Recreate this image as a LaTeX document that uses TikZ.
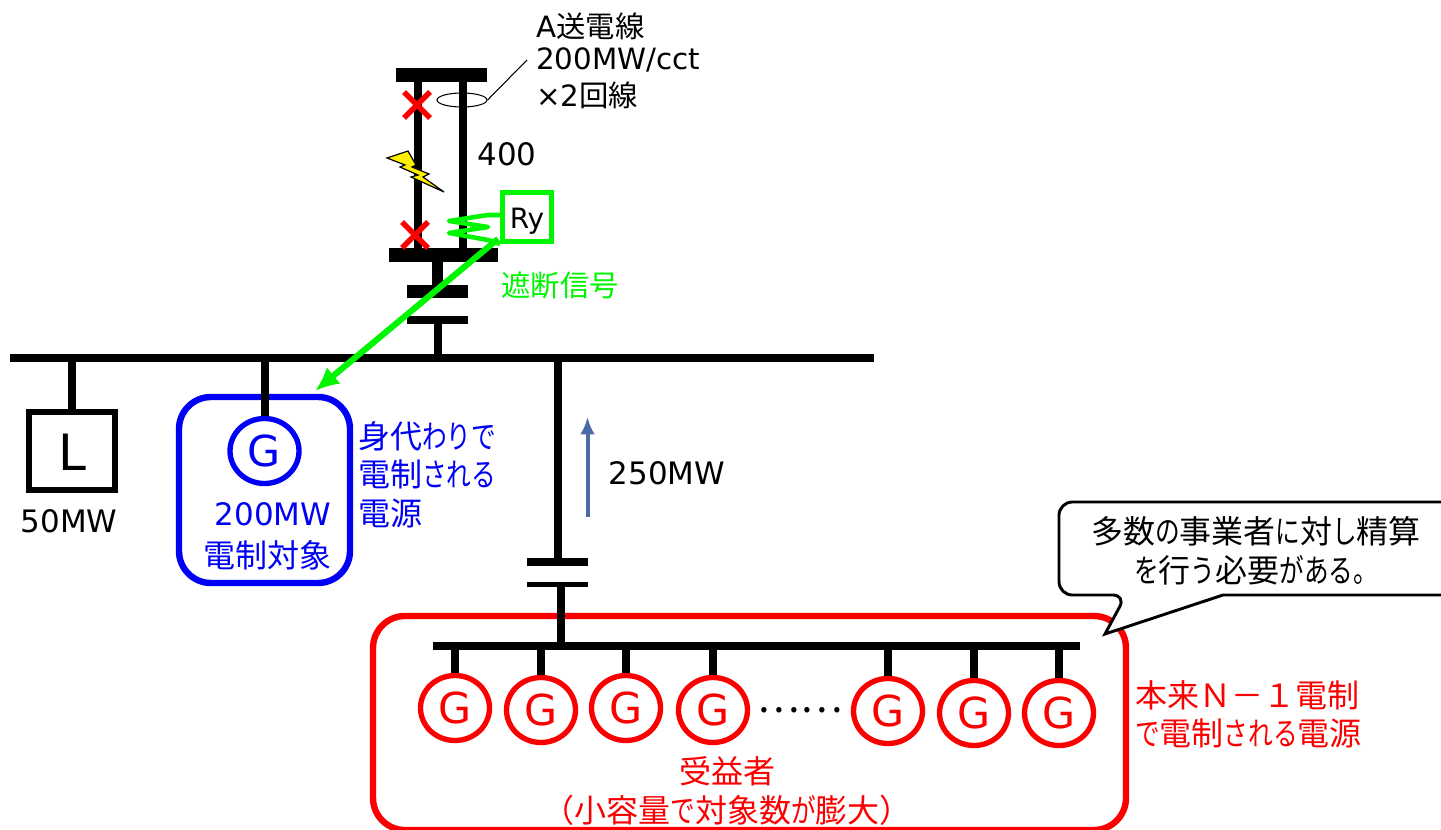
\documentclass[tikz,border=0pt]{standalone}
\usepackage{fontspec}
\usetikzlibrary{shapes.geometric,arrows.meta}
\setmainfont{DejaVu Sans}
\newfontfamily\cjk{Noto Sans CJK JP}
\newfontfamily\cjkn[FakeStretch=0.77]{Noto Sans CJK JP}
\newcommand{\J}[1]{{\cjk #1}}
\newcommand{\K}[1]{{\cjkn #1}}
\definecolor{gr}{HTML}{00F500}
\definecolor{bl}{HTML}{0000F5}
\definecolor{rd}{HTML}{FA0000}
\definecolor{arr}{HTML}{4A6BA5}
\definecolor{bolt}{HTML}{FFF000}
\tikzset{
  txt/.style={inner sep=0pt,font=\fontsize{23.2}{27}\selectfont,align=center},
  ltxt/.style={txt,anchor=west,align=left},
  jtxt/.style={txt,font=\fontsize{24}{27}\selectfont},
  jltxt/.style={ltxt,font=\fontsize{24}{27}\selectfont},
  stxt/.style={ltxt,font=\fontsize{22}{27}\selectfont},
  bar/.style={fill=black,draw=none,inner sep=0pt,minimum width=#1*0.75pt},
  wire/.style={line width=6pt,black},
  thin wire/.style={line width=0.8pt,black},
  gen/.style={ellipse,draw=#1,text=#1,line width=4pt,fill=white,minimum width=69*0.75pt,minimum height=65*0.75pt,inner sep=0pt,font=\fontsize{32}{32}\selectfont},
  cross/.style={line width=4pt,rd},
  bigbox/.style={rounded corners=24pt,line width=4.8pt,draw=#1},
}
\begin{document}
\begin{tikzpicture}[x=0.75pt,y=-0.75pt]
\useasboundingbox (0,0) rectangle (1441,830);
\clip (0,0) rectangle (1441,830);
% buses
\node[bar=91,minimum height=14*0.75pt] (top) at (441,75) {};
\node[bar=109,minimum height=14*0.75pt] (low) at (443.5,255) {};
\node[bar=61,minimum height=13*0.75pt] (p1) at (437.5,291.5) {};
\node[bar=61,minimum height=8*0.75pt] (p2) at (437.5,320) {};
\node[bar=864,minimum height=8*0.75pt] (main) at (442,358) {};
\node[bar=61,minimum height=8*0.75pt] (p3) at (557.5,562) {};
\node[bar=61,minimum height=5*0.75pt] (p4) at (557.5,584) {};
% A line
\coordinate (ax) at (417.5,0);
\coordinate (bx) at (462.5,0);
\coordinate (fx) at (561,0);
\draw[wire] (top.south -| ax) -- (low.north -| ax);
\draw[wire] (top.south -| bx) -- (low.north -| bx);
\draw[line width=8pt] (low.south -| p1.north) -- (p1.north);
\draw[wire] (p2.south) -- (p2.south |- main.north);
% ellipse and leader
\node[draw,ellipse,minimum width=50*0.75pt,minimum height=14*0.75pt,inner sep=0pt,thin wire] (el) at (462,100) {};
\coordinate (lead) at (527,60);
\draw[thin wire] (el.east) -- (lead);
% crosses
\coordinate (x1) at (417,105);
\coordinate (x2) at (415,235);
\foreach \c in {x1,x2}{
  \draw[cross] ([shift={(-13,-13)}]\c) -- ([shift={(13,13)}]\c);
  \draw[cross] ([shift={(-13,13)}]\c) -- ([shift={(13,-13)}]\c);
}
% lightning
\filldraw[fill=bolt,draw=black,line width=0.9pt,line join=miter]
 (387,158)--(408,151)--(416,165)--(412,167)--(429,174)--(423,177)--(444,192)--(411,177)--(418,175)--(400,167)--(405,165)--cycle;
% relay
\node[draw=gr,line width=3.6pt,minimum size=49*0.75pt,inner sep=0pt] (ry) at (527,217) {};
\node[inner sep=0pt,font=\fontsize{21}{21}\selectfont] (rytext) at (527,221) {Ry};
\coordinate (z1) at (488,215);\coordinate (z2) at (449,221);\coordinate (z3) at (488,227);
\coordinate (z4) at (449,233);\coordinate (z5) at (488,240);
\draw[gr,line width=3.4pt,line join=round] (ry.west |- z1) -- (z1) -- (z2) -- (z3) -- (z4) -- (z5) -- (ry.south west);
% green arrow
\coordinate (gt) at (315,391);
\draw[gr,line width=4.6pt,-{Latex[length=18pt,width=16pt]}] ([shift={(-2,-5)}]ry.south west) -- (gt);
% load
\node[draw,line width=4.4pt,minimum width=86*0.75pt,minimum height=78*0.75pt,inner sep=0pt] (load) at (72,451) {};
\node[inner sep=0pt,font=\fontsize{37.5}{38}\selectfont] (ltext) at (72,452) {L};
\draw[wire] (main.south -| load.north) -- (load.north);
% blue group
\draw[bigbox=bl] (179,397) rectangle (350,583);
\node[gen=bl] (gb) at (264.5,451) {G};
\draw[wire] (main.south -| gb.north) -- (gb.north);
% feeder
\draw[line width=6pt] (main.south -| p3.north) -- (p3.north);
% red group
\draw[bigbox=rd] (373,616) rectangle (1126,830);
\node[bar=647,minimum height=8*0.75pt] (sub) at (756.5,646) {};
\draw[wire] (p4.south -| fx) -- (sub.north -| fx);
\foreach \n/\x/\y in {1/455/708,2/541/710,3/626/708,4/713/710,5/888/711,6/974/713,7/1059/713}{
  \node[gen=rd] (g\n) at (\x,\y) {G};
  \draw[wire] (sub.south -| g\n.north) -- (g\n.north);
}
\node[inner sep=0pt,font=\fontsize{30}{30}\selectfont] (dots) at (800,710) {\J{……}};
% flow arrow
\coordinate (fa) at (587.5,517);
\coordinate (fb) at (587.5,417);
\draw[arr,line width=3pt,-{Latex[length=13pt,width=11pt]}] (fa) -- (fb);
% callout
\filldraw[fill=white,draw=black,line width=2.2pt,rounded corners=10pt]
  (1126,595) [sharp corners] -- (1105,634) -- (1223,595) [rounded corners=10pt] -- (1470,595) -- (1470,502) -- (1059,502) -- (1059,595) -- cycle;
% texts
\node[stxt] (t1) at (536,26) {A\J{送電線}};
\node[stxt] (t2) at (536,60) {200MW/cct};
\node[stxt] (t3) at (536,95) {×2\J{回線}};
\node[txt] (t400) at (507,154) {400};
\node[txt,font=\fontsize{22}{27}\selectfont,text=gr] (tcut) at (560,285) {\J{遮断信号}};
\node[txt] (t50) at (69,521) {50MW};
\node[txt,text=bl] (tb1) at (273,514) {200MW};
\node[jtxt,text=bl] (tb2) at (267,555) {\J{電制対象}};
\node[jltxt,text=bl] (tb3) at (358,436) {\J{身代}\K{わりで}};
\node[jltxt,text=bl] (tb4) at (358,474) {\J{電制}\K{される}};
\node[jltxt,text=bl] (tb5) at (358,513) {\J{電源}};
\node[txt] (t250) at (667,473) {250MW};
\node[jtxt] (tc1) at (1256,531) {\J{多数}\K{の}\J{事業者}\K{に}\J{対}\K{し}\J{精算}};
\node[jtxt] (tc2) at (1256,570) {\K{を}\J{行}\K{う}\J{必要}\K{がある。}};
\node[jltxt,text=rd] (tr1) at (1135,695) {\J{本来Ｎ－１電制}};
\node[jltxt,text=rd] (tr2) at (1135,733) {\K{で}\J{電制}\K{される}\J{電源}};
\node[jtxt,text=rd] (tr3) at (727,771) {\J{受益者}};
\node[jtxt,text=rd] (tr4) at (727,810) {\J{（小容量}\K{で}\J{対象数}\K{が}\J{膨大）}};
\end{tikzpicture}
\end{document}
